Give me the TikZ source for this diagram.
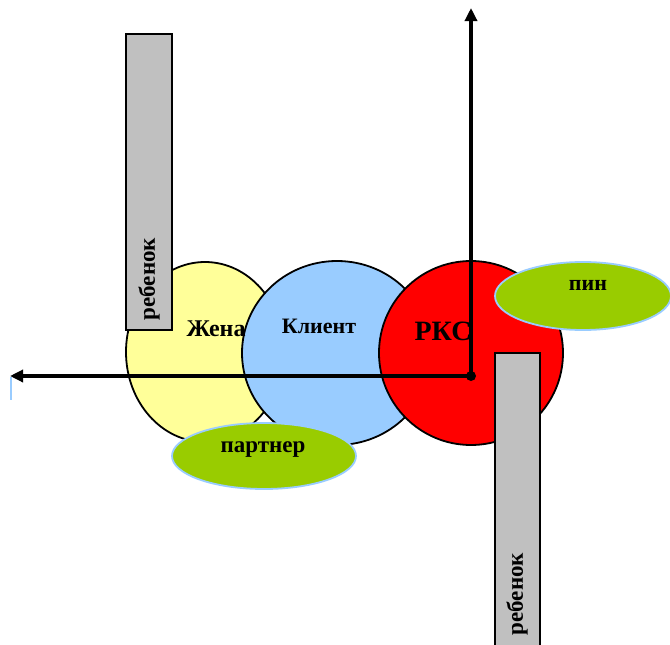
\documentclass[tikz,border=0pt]{standalone}
\usepackage{fontspec}
\setmainfont{Liberation Serif}
\usetikzlibrary{arrows.meta}
\definecolor{wifey}{RGB}{255,255,153}
\definecolor{clientblue}{RGB}{153,204,255}
\definecolor{rksred}{RGB}{255,0,0}
\definecolor{kidgray}{RGB}{192,192,192}
\definecolor{leaf}{RGB}{153,204,0}
\definecolor{rimblue}{RGB}{153,204,255}
\tikzset{
  circ/.style={draw=black, line width=1.8pt},
  kidbox/.style={draw=black, line width=1.8pt, fill=kidgray},
  green oval/.style={draw=rimblue, line width=1.8pt, fill=leaf},
  lbl/.style={font=\bfseries\fontsize{#1}{#1}\selectfont, inner sep=0pt},
  axis/.style={line width=3.4pt, -{Triangle[length=13pt,width=12pt]}}
}
\begin{document}
\begin{tikzpicture}[x=1pt,y=-1pt]
\useasboundingbox (0,0) rectangle (670,645);
% circles
\draw[circ, fill=wifey] (205,352) ellipse [x radius=79, y radius=90];
\draw[circ, fill=clientblue] (337,353) ellipse [x radius=95, y radius=92];
\draw[circ, fill=rksred] (471,353) ellipse [x radius=92, y radius=92];
\node[lbl=24] (wife) at (216,329) {Жена};
\node[lbl=22] (client) at (319,326) {Клиент};
\node[lbl=28] (rks) at (443,331) {РКС};
% child boxes
\draw[kidbox] (126,34) rectangle (172,330);
\node[lbl=23, rotate=90] (kid1) at (149,279) {ребенок};
\draw[kidbox] (495,353) rectangle (540,650);
\node[lbl=23, rotate=90] (kid2) at (517,594) {ребенок};
% green ovals
\draw[green oval] (583,296) ellipse [x radius=88, y radius=34];
\node[lbl=22] (pin) at (588,285) {пин};
\draw[green oval] (264,456) ellipse [x radius=92, y radius=33];
\node[lbl=23] (partner) at (263,450) {партнер};
% axes
\coordinate (origin) at (471,376);
\coordinate (leftend) at (10,376);
\coordinate (topend) at (471,8);
\draw[axis] (origin) -- (leftend);
\draw[axis] (origin) -- (topend);
\fill (origin) circle (5);
\coordinate (tickA) at (11,377);
\coordinate (tickB) at (11,400);
\draw[rimblue, line width=1.2pt] (tickA) -- (tickB);
\end{tikzpicture}
\end{document}
